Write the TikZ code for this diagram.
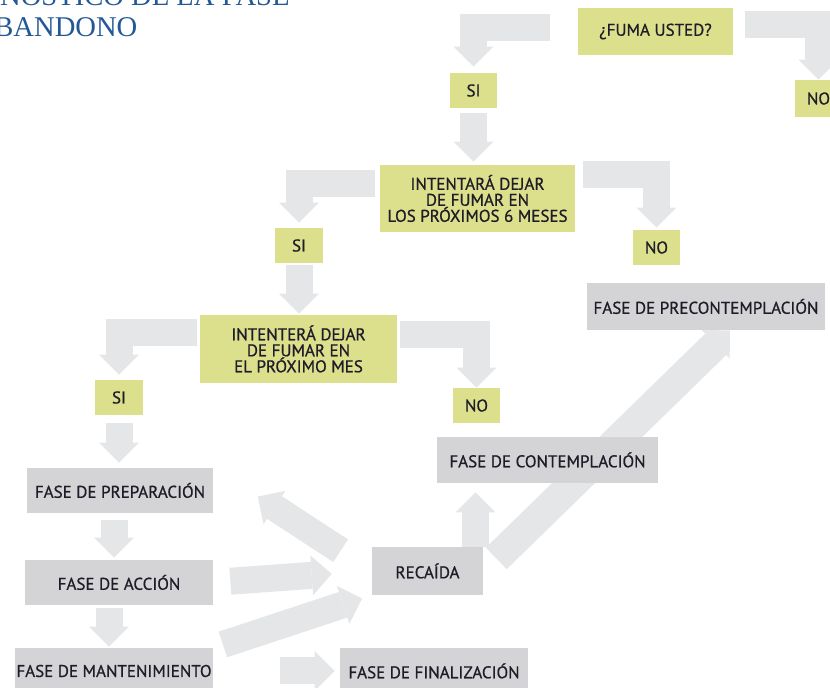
\documentclass[tikz,border=0pt]{standalone}
\usepackage{fontspec}
\setmainfont{PT Sans}
\newfontfamily\boxfont{PT Sans}[BoldFont={PT Sans},BoldFeatures={FakeBold=0.7}]
\newfontfamily\titlefont{Liberation Serif}
\usepackage{tikz}
\definecolor{cajaverde}{RGB}{220, 224, 140}
\definecolor{cajagris}{RGB}{212, 212, 214}
\definecolor{flechagris}{RGB}{229, 230, 232}
\definecolor{titulo}{RGB}{35, 88, 150}
\definecolor{texto}{RGB}{30, 28, 40}
\usetikzlibrary{
  arrows.meta,
  backgrounds,
  positioning,
}
\tikzset{
  greenbox/.style={rectangle,fill=cajaverde,inner sep=0pt,align=center,text=texto,font=\boxfont\bfseries\fontsize{8.5}{8}\selectfont},
  graybox/.style={rectangle,fill=cajagris,inner sep=0pt,align=center,text=texto,font=\boxfont\bfseries\fontsize{8.5}{8}\selectfont},
  flecha/.style={draw=flechagris,line width=13.5pt,line join=miter,-{Triangle[width=20pt,length=10pt,line width=0pt]}},
  titletext/.style={text=titulo,font=\titlefont\fontsize{14.3}{15}\selectfont,inner sep=0pt},
}
\begin{document}
\begin{tikzpicture}[x=0.5pt,y=-0.5pt]
      \useasboundingbox (0,0) rectangle (830,688);
      \clip (0,0) rectangle (830,688);

      \node[titletext,anchor=base east] (tit1) at (290,6) {NÓSTICO DE LA FASE};
      \node[titletext,anchor=base west] (tit2) at (-6,37) {BANDONO};

      \node[greenbox,minimum width=77.5pt,minimum height=23.5pt] (fuma) at (655.5,31.5) {¿FUMA USTED?};
      \node[greenbox,minimum width=23.5pt,minimum height=17.5pt] (si1) at (473.5,90.5) {SI};
      \node[greenbox,minimum width=23.5pt,minimum height=18.5pt] (no1) at (818.5,98.5) {NO};
      \node[greenbox,minimum width=97.5pt,minimum height=33.5pt] (seis) at (477.5,198.5) {INTENTARÁ DEJAR\\DE FUMAR EN\\LOS PRÓXIMOS 6 MESES};
      \node[greenbox,minimum width=24pt,minimum height=17.5pt] (si2) at (299,245.5) {SI};
      \node[greenbox,minimum width=23.5pt,minimum height=17.5pt] (no2) at (656.5,247.5) {NO};
      \node[graybox,minimum width=119pt,minimum height=23.5pt] (precon) at (706,306.5) {FASE DE PRECONTEMPLACIÓN};
      \node[greenbox,minimum width=98.5pt,minimum height=34pt] (mes) at (298.5,349) {INTENTERÁ DEJAR\\DE FUMAR EN\\EL PRÓXIMO MES};
      \node[greenbox,minimum width=24pt,minimum height=17.5pt] (si3) at (119,397.5) {SI};
      \node[greenbox,minimum width=23.5pt,minimum height=17.5pt] (no3) at (476.5,405.5) {NO};
      \node[graybox,minimum width=110.5pt,minimum height=23pt] (contem) at (547.5,460) {FASE DE CONTEMPLACIÓN};
      \node[graybox,minimum width=93pt,minimum height=22.5pt] (prep) at (120,490.5) {FASE DE PREPARACIÓN};
      \node[graybox,minimum width=94pt,minimum height=22.5pt] (accion) at (119,582.5) {FASE DE ACCIÓN};
      \node[graybox,minimum width=99pt,minimum height=23pt] (mant) at (114,671) {FASE DE MANTENIMIENTO};
      \node[graybox,minimum width=94pt,minimum height=23pt] (final) at (434,671) {FASE DE FINALIZACIÓN};
      \node[graybox,minimum width=55.5pt,minimum height=24pt] (recaida) at (427.5,571) {RECAÍDA};

      \begin{scope}[on background layer]
      % preguntas
      \draw[flecha,shorten <=14pt,shorten >=3pt] ([yshift=2pt]fuma.west) -| (si1.north);
      \draw[flecha,shorten <=6pt] ([yshift=3.5pt]fuma.east) -| (no1.north);
      \draw[flecha,shorten <=2.5pt,shorten >=1.5pt] (si1.south) -- (si1.south |- seis.north);
      \draw[flecha,shorten <=2.5pt,shorten >=2.5pt] ([yshift=7.5pt]seis.west) -| (si2.north);
      \draw[flecha,shorten <=4pt,shorten >=1pt] ([yshift=11.75pt]seis.east) -| (no2.north);
      \draw[flecha,shorten <=1pt,shorten >=0.5pt] (si2.south) -- (si2.south |- mes.north);
      \draw[flecha,shorten <=1.5pt,shorten >=2.5pt] ([yshift=8pt]mes.west) -| (si3.north);
      \draw[flecha,shorten <=1.5pt] ([yshift=7pt]mes.east) -| (no3.north);
      \draw[flecha,shorten <=4pt,shorten >=2.5pt] (si3.south) -- (si3.south |- prep.north);

      % fases
      \draw[flecha,shorten <=3.5pt,shorten >=1pt] ([xshift=-3pt]prep.south) -- ([xshift=-3pt]prep.south |- accion.north);
      \draw[flecha,shorten <=1.5pt,shorten >=0.5pt] ([xshift=-5pt]accion.south) -- ([xshift=-5pt]accion.south |- mant.north);
      \draw[flecha,shorten <=33.5pt,shorten >=2.5pt] (mant.east) -- (final.west);
      \draw[flecha,shorten <=8.5pt,shorten >=20pt] (accion.east) -- (recaida.west);
      \draw[flecha,shorten <=5pt,shorten >=5pt] (mant.north east) -- (recaida.south west);
      \draw[flecha,shorten <=18.5pt,shorten >=26.5pt] (recaida.west) -- (prep.north east);
      \draw[flecha,shorten >=4.5pt] ([xshift=-4pt]recaida.north east) -- ([xshift=-4pt]recaida.north east |- contem.south);
      \draw[flecha,line width=15pt,shorten <=9pt] (recaida.east) -- ([xshift=12pt]precon.south);
      \end{scope}

    \end{tikzpicture}
\end{document}
